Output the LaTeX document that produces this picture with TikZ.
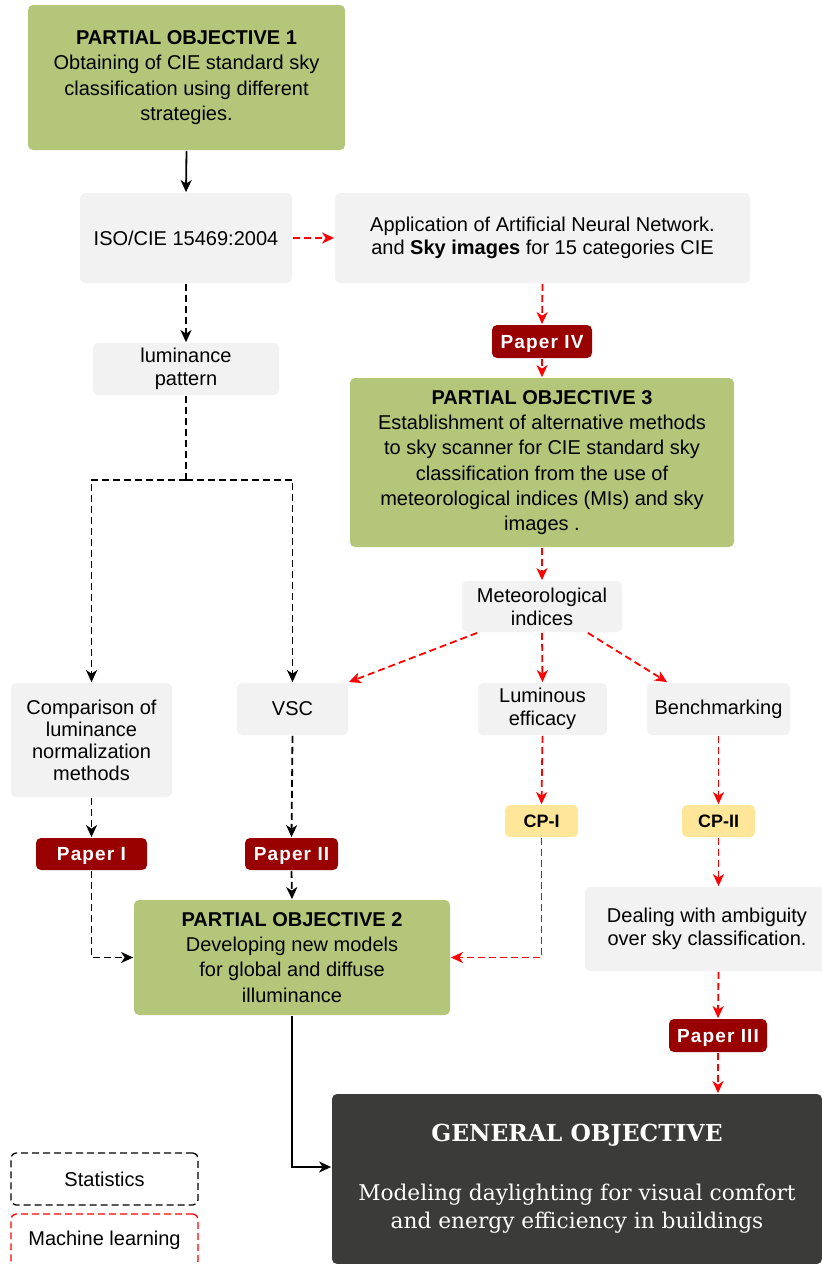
\documentclass[tikz,border=0pt]{standalone}
\usepackage{fontspec}
\newfontfamily\arialfont{Liberation Sans}
\newfontfamily\paperfont[LetterSpace=6]{Liberation Sans}
\newfontfamily\goalfont{DejaVu Serif}
\usepackage{xcolor}
\usetikzlibrary{arrows.meta, calc}
\definecolor{objgreen}{HTML}{B3C67A}
\definecolor{boxgray}{HTML}{F2F2F2}
\definecolor{paperred}{HTML}{990000}
\definecolor{cpyellow}{HTML}{FFE699}
\definecolor{goaldark}{HTML}{3B3B3A}

\begin{document}
\begin{tikzpicture}[x=1pt, y=-1pt, line width=1.8pt,
    every node/.style={align=center, inner sep=0pt, rounded corners=5pt,
        font=\arialfont\fontsize{20}{23}\selectfont},
    objbox/.style={fill=objgreen, font=\arialfont\fontsize{20}{25.2}\selectfont},
    infobox/.style={fill=boxgray},
    paperbox/.style={fill=paperred, text=white, minimum height=33, text height=13.5, text depth=0pt,
        font=\paperfont\bfseries\fontsize{19}{20}\selectfont},
    cpbox/.style={fill=cpyellow, minimum width=73, minimum height=32, text height=13, text depth=0pt,
        font=\arialfont\bfseries\fontsize{18}{20}\selectfont},
    tip/.style={-{Stealth[length=12pt, width=11pt, inset=3.5pt]}},
    solidarrow/.style={tip, draw=black},
    statline/.style={draw=black, dash pattern=on 7pt off 4pt},
    statarrow/.style={statline, tip},
    mlarrow/.style={tip, draw=red, dash pattern=on 7pt off 4pt}]

    \useasboundingbox (0,0) rectangle (822,1264);

    % objectives
    \node[objbox, minimum width=317, minimum height=145] (po1) at (186.5,77.5)
        {\textbf{PARTIAL OBJECTIVE 1}\\Obtaining of CIE standard sky\\classification using different\\strategies.};
    \node[objbox, minimum width=384, minimum height=169] (po3) at (542,462.5)
        {\textbf{PARTIAL OBJECTIVE 3}\\Establishment of alternative methods\\to sky scanner for CIE standard sky\\classification from the use of\\meteorological indices (MIs) and sky\\images .};
    \node[objbox, minimum width=316, minimum height=115] (po2) at (292,957.5)
        {\textbf{PARTIAL OBJECTIVE 2}\\Developing new models\\for global and diffuse\\illuminance};
    \node[fill=goaldark, text=white, minimum width=490, minimum height=170,
        font=\goalfont\fontsize{21.7}{28}\selectfont] (go) at (577,1179)
        {{\bfseries\fontsize{23.4}{28}\selectfont GENERAL OBJECTIVE}\\[31pt]Modeling daylighting for visual comfort\\and energy efficiency in buildings};

    % intermediate boxes
    \node[infobox, minimum width=212, minimum height=90] (iso) at (186,238) {ISO/CIE 15469:2004};
    \node[infobox, minimum width=415, minimum height=90] (ann) at (542.5,238)
        {Application of Artificial Neural Network.\\and \textbf{Sky images} for 15 categories CIE};
    \node[infobox, minimum width=186, minimum height=52] (lum) at (186,369) {luminance\\pattern};
    \node[infobox, minimum width=160, minimum height=51] (mi) at (542,606.5) {Meteorological\\indices};
    \node[infobox, minimum width=161, minimum height=114,
        font=\arialfont\fontsize{20}{22}\selectfont] (comp) at (91.5,740)
        {Comparison of\\luminance\\normalization\\methods};
    \node[infobox, minimum width=111, minimum height=52] (vsc) at (292.5,709) {VSC};
    \node[infobox, minimum width=129, minimum height=52] (lumeff) at (542.5,709) {Luminous\\efficacy};
    \node[infobox, minimum width=143, minimum height=52] (bench) at (718.5,709) {Benchmarking};
    \node[infobox, minimum width=244, minimum height=84] (deal) at (707,929)
        {Dealing with ambiguity\\over sky classification.};

    % papers and checkpoints
    \node[paperbox, minimum width=100] (p4) at (542,341.5) {Paper IV};
    \node[paperbox, minimum width=111, minimum height=32] (p1) at (91.5,854) {Paper I};
    \node[paperbox, minimum width=93, minimum height=32] (p2) at (291.5,854) {Paper II};
    \node[paperbox, minimum width=98] (p3) at (718,1035.5) {Paper III};
    \node[cpbox] (cp1) at (541.5,821) {CP-I};
    \node[cpbox] (cp2) at (718.5,821) {CP-II};

    % legend
    \node[draw=black, dash pattern=on 7pt off 4pt, line width=1.3pt, fill=white,
        minimum width=187, minimum height=52] (legstat) at (104.5,1179) {Statistics};
    \node[draw=red, dash pattern=on 7pt off 4pt, line width=1.3pt, fill=white,
        minimum width=187, minimum height=52] (legml) at (104.5,1240) {Machine learning};

    % connectors
    \draw[solidarrow] (po1.south) -- (iso.north);
    \draw[mlarrow] (iso.east) -- (ann.west);
    \draw[statarrow] (iso.south) -- (lum.north);
    \draw[statline] (lum.south) -- ++(0,84) coordinate (split);
    \draw[statarrow] (split) -| (comp.north);
    \draw[statarrow] (split) -| (vsc.north);
    \draw[mlarrow] (ann.south) -- (p4.north);
    \draw[mlarrow] (p4.south) -- (po3.north);
    \draw[mlarrow] (po3.south) -- (mi.north);
    \draw[mlarrow] ($(mi.south west)+(16,0)$) -- (vsc.north east);
    \draw[mlarrow] (mi.south) -- (lumeff.north);
    \draw[mlarrow] ($(mi.south east)+(-35,0)$) -- ($(bench.north west)+(21,0)$);
    \draw[statarrow] (comp.south) -- (p1.north);
    \draw[statarrow] (vsc.south) -- (p2.north);
    \draw[mlarrow] (lumeff.south) -- (cp1.north);
    \draw[mlarrow] (bench.south) -- (cp2.north);
    \draw[statarrow] (p2.south) -- (po2.north);
    \draw[statarrow] (p1.south) |- (po2.west);
    \draw[mlarrow] (cp1.south) |- (po2.east);
    \draw[mlarrow] (cp2.south) -- (cp2.south |- deal.north);
    \draw[mlarrow] (cp2.south |- deal.south) -- (p3.north);
    \draw[mlarrow] (p3.south) -- (p3.south |- go.north);
    \draw[solidarrow] (po2.south) |- ($(go.west)+(0,-12)$);
\end{tikzpicture}
\end{document}
